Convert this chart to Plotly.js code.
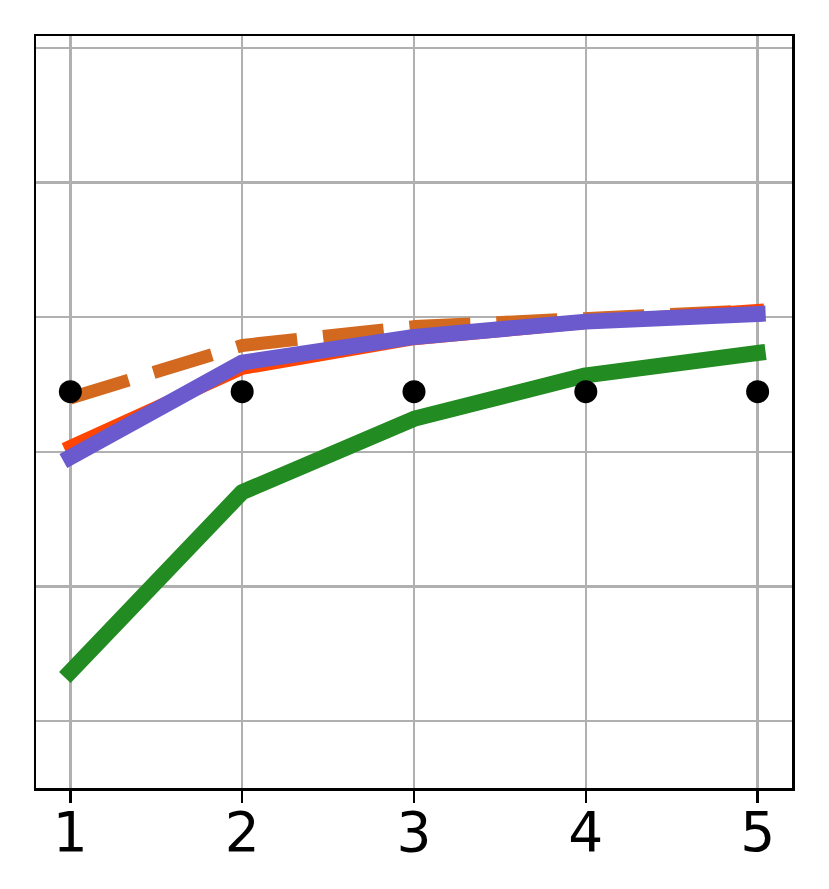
<!DOCTYPE html>
<html>
<head>
<meta charset="utf-8">
<script src="https://cdn.plot.ly/plotly-3.0.1.min.js"></script>
<style>
  html, body { margin: 0; padding: 0; background: #fff; }
  #chart { width: 829px; height: 889px; }
  .scatterlayer .trace path.js-line { stroke-linejoin: round; }
  .scatterlayer .trace:not(:nth-child(2)) path.js-line { stroke-linecap: square; }
</style>
</head>
<body>
<div id="chart"></div>
<script>
const xValues = [1, 2, 3, 4, 5];
const greenSeries = [0.366, 1.70, 2.245, 2.568, 2.734];
const orangeDashedSeries = [2.40, 2.79, 2.93, 3.00, 3.05];
const redSeries = [2.04, 2.62, 2.84, 2.96, 3.05];
const purpleSeries = [1.96, 2.663, 2.853, 2.967, 3.024];
const dotSeries = [2.446, 2.446, 2.446, 2.446, 2.446];
const xTickLabels = ['1', '2', '3', '4', '5'];

const traces = [
  {x: xValues, y: greenSeries, mode: 'lines', line: {color: '#228B22', width: 16}},
  {x: xValues, y: orangeDashedSeries, mode: 'lines', line: {color: '#D2691E', width: 13, dash: '61px,26px'}},
  {x: xValues, y: redSeries, mode: 'lines', line: {color: '#FF4500', width: 13}},
  {x: xValues, y: purpleSeries, mode: 'lines', line: {color: '#6A5ACD', width: 16}},
  {x: xValues, y: dotSeries, mode: 'markers', marker: {color: '#000000', size: 23}}
];

const layout = {
  width: 829, height: 889,
  margin: {l: 36, r: 37, t: 36, b: 101},
  paper_bgcolor: '#ffffff', plot_bgcolor: '#ffffff',
  showlegend: false,
  font: {family: 'DejaVu Sans', color: '#000000'},
  xaxis: {
    range: [0.8, 5.2],
    tickvals: xValues, ticktext: xTickLabels,
    showgrid: true, gridcolor: '#b0b0b0', gridwidth: 2.5,
    showline: true, mirror: true, linecolor: '#000000', linewidth: 2.5,
    ticks: 'outside', ticklen: 12, tickwidth: 2.5, tickcolor: '#000000',
    ticklabelstandoff: -18,
    tickfont: {size: 55, family: 'DejaVu Sans', color: '#000000'},
    zeroline: false
  },
  yaxis: {
    range: [-0.498, 5.089],
    tickvals: [0, 1, 2, 3, 4, 5],
    showticklabels: false,
    showgrid: true, gridcolor: '#b0b0b0', gridwidth: 2.5,
    showline: true, mirror: true, linecolor: '#000000', linewidth: 2.5,
    ticks: '', zeroline: false
  }
};

Plotly.newPlot('chart', traces, layout, {displayModeBar: false, staticPlot: true});
</script>
</body>
</html>
